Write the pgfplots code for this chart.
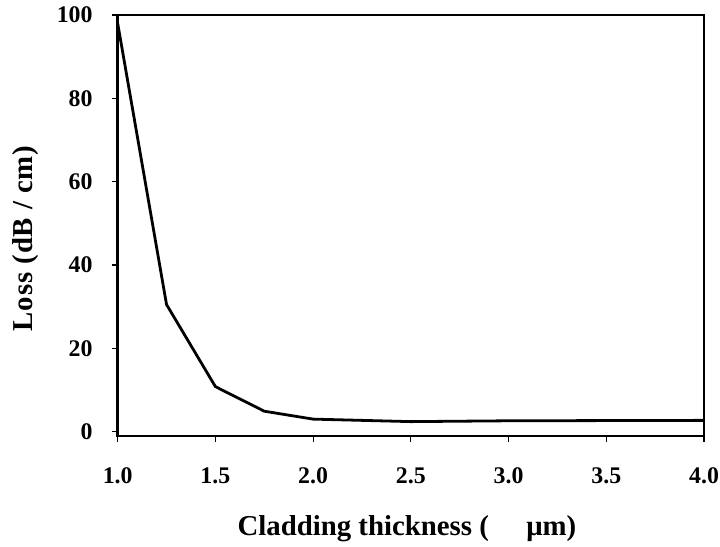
\documentclass[border=0pt]{standalone}
\usepackage{pgfplots}
\pgfplotsset{compat=1.18}
\usepackage{fontspec}
\setmainfont{Liberation Serif}
\begin{document}
\begin{tikzpicture}
\begin{axis}[
  scale only axis,
  width=588bp, height=422bp,
  xmin=1, xmax=4, ymin=-1, ymax=100,
  xtick={1,1.5,2,2.5,3,3.5,4},
  ytick={0,20,40,60,80,100},
  xticklabel style={/pgf/number format/fixed, /pgf/number format/fixed zerofill, /pgf/number format/precision=1},
  /pgf/number format/assume math mode=true,
  tick label style={font=\fontsize{24}{28}\selectfont\bfseries, inner sep=0pt},
  xticklabel style={anchor=north, text height=16.5bp, text depth=0pt, yshift=-25bp},
  yticklabel style={anchor=east, xshift=-19bp},
  xlabel={Cladding thickness (\hspace{1.3em}μm)},
  ylabel={Loss (dB / cm)},
  xlabel style={font=\fontsize{29}{33}\selectfont\bfseries, inner sep=0pt,
    at={(axis description cs:0.2041,-0.237)}, anchor=base west},
  ylabel style={font=\fontsize{29}{33}\selectfont\bfseries\addfontfeature{LetterSpace=3}, inner sep=0pt,
    at={(axis description cs:-0.1446,0.4692)}, anchor=base},
  axis line style={line width=2.4bp},
  tick style={line width=1.2bp, black},
  tick align=outside,
  major tick length=6bp,
  xtick pos=bottom, ytick pos=left,
  clip=true,
]
\addplot[black, line width=2.8bp] coordinates {
 (1.0,98) (1.25,30.5) (1.5,10.8) (1.75,4.9) (2.0,3.0) (2.5,2.4) (3.0,2.6) (4.0,2.7)
};
\end{axis}
\pgfresetboundingbox
\path (current axis.south west) ++(-118bp,-111bp) coordinate (bl);
\path (current axis.north east) ++(16bp,15bp) coordinate (tr);
\useasboundingbox (bl) rectangle (tr);
\end{tikzpicture}
\end{document}
